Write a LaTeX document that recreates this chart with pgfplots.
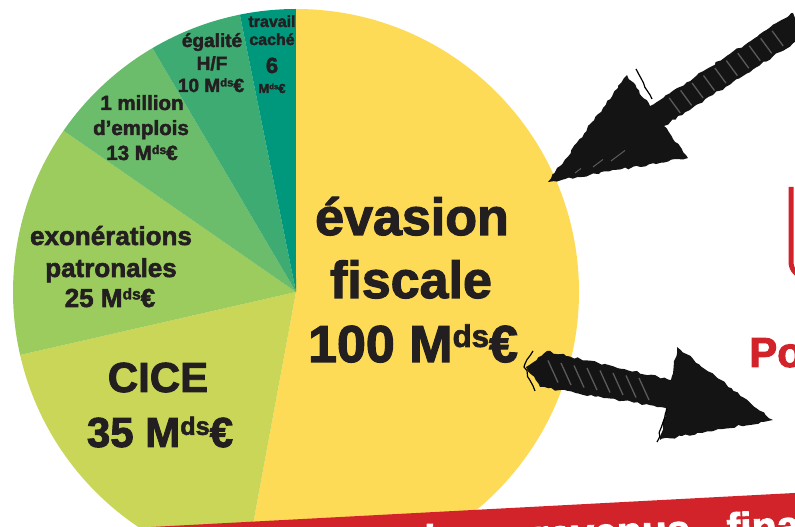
\documentclass[border=0pt]{standalone}
\usepackage{pgfplots}
\pgfplotsset{compat=1.18}
\usepackage{pgfplotstable}
\usepackage{graphicx}
\usepackage{fontspec}
\setmainfont{Liberation Sans}[BoldFeatures={FakeBold=2.2}]
\usetikzlibrary{decorations.pathmorphing}

\definecolor{cEva}{HTML}{FDDB57}
\definecolor{cCice}{HTML}{C9D657}
\definecolor{cExo}{HTML}{9CCB5E}
\definecolor{cEmp}{HTML}{6BBD6B}
\definecolor{cEga}{HTML}{3EAB73}
\definecolor{cTra}{HTML}{00987C}
\definecolor{ink}{HTML}{231F20}
\definecolor{rouge}{HTML}{D2232A}

\pgfplotstableread{
label value
evasion 100
cice 35
exo 25
emplois 13
egalite 10
travail 6
}\piedata

\newcommand\Mds{M\raisebox{0.29em}{\scalebox{0.6}{ds}}€}
\newcommand\lab[4]{\node[anchor=base, text=ink, inner sep=0pt, font=\bfseries\fontsize{#1}{#1}\selectfont] at (axis cs:#2,#3) {#4};}

\begin{document}
\begin{tikzpicture}
\pgfplotstablegetelem{0}{value}\of\piedata \let\vA\pgfplotsretval
\pgfplotstablegetelem{1}{value}\of\piedata \let\vB\pgfplotsretval
\pgfplotstablegetelem{2}{value}\of\piedata \let\vC\pgfplotsretval
\pgfplotstablegetelem{3}{value}\of\piedata \let\vD\pgfplotsretval
\pgfplotstablegetelem{4}{value}\of\piedata \let\vE\pgfplotsretval
\pgfplotstablegetelem{5}{value}\of\piedata \let\vF\pgfplotsretval
\pgfmathsetmacro\tot{\vA+\vB+\vC+\vD+\vE+\vF}
\pgfmathsetmacro\aA{90}
\pgfmathsetmacro\aB{\aA-\vA/\tot*360}
\pgfmathsetmacro\aC{\aB-\vB/\tot*360}
\pgfmathsetmacro\aD{\aC-\vC/\tot*360}
\pgfmathsetmacro\aE{\aD-\vD/\tot*360}
\pgfmathsetmacro\aF{\aE-\vE/\tot*360}
\pgfmathsetmacro\aG{\aF-\vF/\tot*360}
\begin{axis}[
  x=1pt, y=1pt, xmin=0, xmax=795, ymin=0, ymax=527,
  scale only axis, hide axis, clip=true,
]
\coordinate (bl) at (axis cs:0,0);
\coordinate (tr) at (axis cs:795,527);
% pie sectors
\fill[cEva] (axis cs:296,235) -- ++(\aA:283pt) arc[start angle=\aA, end angle=\aB, radius=283pt] -- cycle;
\fill[cCice] (axis cs:296,235) -- ++(\aB:283pt) arc[start angle=\aB, end angle=\aC, radius=283pt] -- cycle;
\fill[cExo] (axis cs:296,235) -- ++(\aC:283pt) arc[start angle=\aC, end angle=\aD, radius=283pt] -- cycle;
\fill[cEmp] (axis cs:296,235) -- ++(\aD:283pt) arc[start angle=\aD, end angle=\aE, radius=283pt] -- cycle;
\fill[cEga] (axis cs:296,235) -- ++(\aE:283pt) arc[start angle=\aE, end angle=\aF, radius=283pt] -- cycle;
\fill[cTra] (axis cs:296,235) -- ++(\aF:283pt) arc[start angle=\aF, end angle=\aG, radius=283pt] -- cycle;

% labels
\lab{52}{412}{292}{évasion}
\lab{52}{411}{229}{fiscale}
\lab{52}{413}{165}{100 \Mds}
\lab{42}{158}{135}{CICE}
\lab{42}{160}{80}{35 \Mds}
\lab{26}{111}{282}{exonérations}
\lab{26}{111}{250}{patronales}
\lab{26}{110}{220}{25 \Mds}
\lab{20.5}{142}{417}{1 million}
\lab{20.5}{141}{392}{d’emplois}
\lab{20.5}{142}{367}{13 \Mds}
\lab{19}{212}{480}{égalité}
\lab{19}{212}{457}{H/F}
\lab{19}{211}{435}{10 \Mds}
\lab{16}{272}{500}{travail}
\lab{16}{272}{482}{caché}
\lab{22}{272}{454}{6}
\lab{13}{272}{434}{\Mds}

% red box edge
\draw[rouge, line width=5pt] (axis cs:791,340) -- (axis cs:791,265) arc[start angle=180, end angle=270, radius=15pt] -- (axis cs:830,250);
\node[anchor=base west, text=rouge, inner sep=0pt, font=\bfseries\fontsize{42}{42}\selectfont] at (axis cs:749,160) {Pour};

% upper arrow
\fill[black!92, decorate, decoration={random steps, segment length=4pt, amplitude=1.2pt}]
  (axis cs:548,345) -- (axis cs:627,452) -- (axis cs:650,421) -- (axis cs:793,514)
  -- (axis cs:807,492) -- (axis cs:664,401) -- (axis cs:688,369) -- cycle;
\draw[black, line width=1.2pt, decorate, decoration={random steps, segment length=5pt, amplitude=1.2pt}]
  (axis cs:636,458) -- (axis cs:652,428);
\pgfplotsinvokeforeach{0.12,0.2,0.28,0.36,0.44,0.52,0.6,0.68,0.76,0.84}{
  \draw[white, opacity=0.3, line width=1.3pt] (axis cs:{657+143*#1-5},{410+93*#1+8}) -- (axis cs:{657+143*#1+6},{410+93*#1-7});
}
\pgfplotsinvokeforeach{0.3,0.5,0.7}{
  \draw[white, opacity=0.3, line width=1pt] (axis cs:{548+90*#1},{345+30*#1}) -- (axis cs:{548+110*#1},{345+45*#1});
}

% lower arrow
\fill[black!92, decorate, decoration={random steps, segment length=4pt, amplitude=1.2pt}]
  (axis cs:526,160) -- (axis cs:547,176) -- (axis cs:671,147) -- (axis cs:677,180)
  -- (axis cs:773,107) -- (axis cs:660,87) -- (axis cs:666,119) -- (axis cs:540,140) -- cycle;
\draw[black, line width=1.2pt, decorate, decoration={random steps, segment length=5pt, amplitude=1.2pt}]
  (axis cs:533,176) -- (axis cs:524,160) -- (axis cs:535,136) (axis cs:657,85) -- (axis cs:667,118);
\pgfplotsinvokeforeach{0.1,0.2,0.3,0.4,0.5,0.6,0.7,0.8}{
  \draw[white, opacity=0.3, line width=1.3pt] (axis cs:{540+130*#1-5},{158-25*#1+11}) -- (axis cs:{540+130*#1+5},{158-25*#1-11});
}

% red banner
\fill[rouge] (axis cs:0,-8) -- (axis cs:800,34.3) -- (axis cs:800,-60) -- (axis cs:0,-60) -- cycle;
\node[anchor=base west, text=white, inner sep=0pt, rotate=2, font=\bfseries\fontsize{41}{41}\selectfont] at (axis cs:425,-27) {les};
\node[anchor=base west, text=white, inner sep=0pt, rotate=2, font=\bfseries\fontsize{41}{41}\selectfont] at (axis cs:533,-22) {revenus};
\node[anchor=base west, text=white, inner sep=0pt, rotate=2, font=\bfseries\fontsize{41}{41}\selectfont] at (axis cs:727,-15) {financiers};
\end{axis}
\pgfresetboundingbox
\path[use as bounding box] (bl) rectangle (tr);
\end{tikzpicture}
\end{document}
